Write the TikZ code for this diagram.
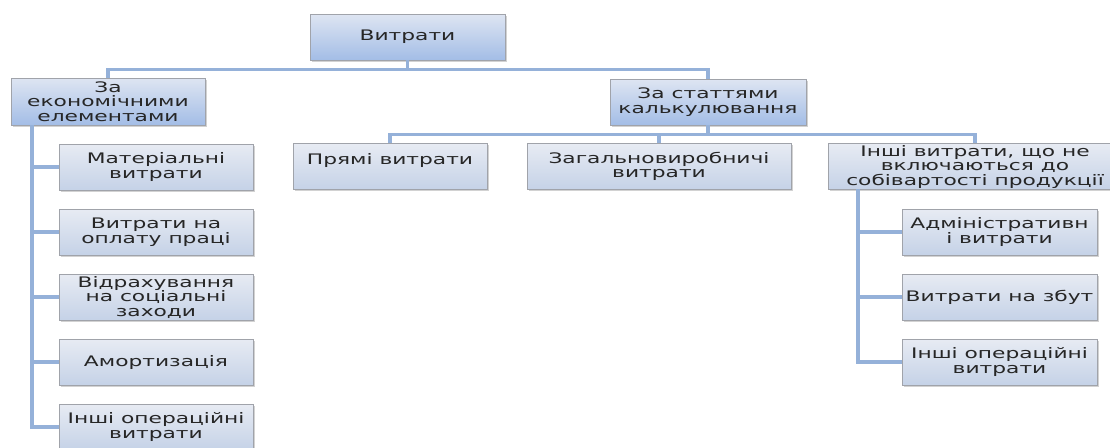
\documentclass[tikz,border=0pt]{standalone}
\usepackage{fontspec}
\setmainfont[FakeStretch=1.5]{DejaVu Sans}
\usetikzlibrary{shadows}
\definecolor{linecol}{RGB}{149,177,217}
\definecolor{topA}{RGB}{222,229,242}
\definecolor{topB}{RGB}{163,189,230}
\definecolor{subA}{RGB}{231,235,243}
\definecolor{subB}{RGB}{197,210,231}
\definecolor{edgecol}{RGB}{160,163,170}
\begin{document}
\begin{tikzpicture}[x=1pt, y=-1pt,
    box/.style={draw=edgecol, line width=0.8pt, inner sep=0pt, align=center,
        minimum height=46, font=\fontsize{14.5}{14.5}\selectfont, text=black!85,
        drop shadow={shadow xshift=1.5pt, shadow yshift=-1.5pt, opacity=0.25, fill=black!70}},
    headbox/.style={box, top color=topA, bottom color=topB},
    subbox/.style={box, top color=subA, bottom color=subB},
    conn/.style={draw=linecol, line width=3.5pt}]
\useasboundingbox (0,0) rectangle (1110,447);

% top levels
\node[headbox, minimum width=195] (root) at (407.5,37) {Витрати};
\node[headbox, minimum width=194, minimum height=47] (econ) at (108,101.5) {За\\економічними\\елементами};
\node[headbox, minimum width=196] (calc) at (708,102) {За статтями\\калькулювання};

\node[subbox, minimum width=194] (direct) at (390,166.5) {Прямі витрати\\~};
\node[subbox, minimum width=264] (general) at (659,166.5) {Загальновиробничі\\витрати};
\node[subbox, minimum width=294] (other) at (975,166.5) {Інші витрати, що не\\включаються до\\собівартості продукції};

\draw[conn] (root.south) -- ++(0,9) -| (econ.north);
\draw[conn] (root.south) -- ++(0,9) -| (calc.north);
\foreach \n in {direct,general,other}
    \draw[conn] (calc.south) -- ++(0,9) -| (\n.north);

% economic elements
\coordinate (el) at (32,125);
\foreach \i/\y/\t in {1/167/{Матеріальні\\витрати}, 2/232/{Витрати на\\оплату праці},
    3/297/{Відрахування\\на соціальні\\заходи}, 4/362/{Амортизація}, 5/427/{Інші операційні\\витрати}}
{
    \draw[conn] (el) |- (156,\y);
    \node[subbox, minimum width=194] (e\i) at (156,\y) {\t};
}

% other costs
\coordinate (ol) at (858,189);
\foreach \i/\y/\t in {1/232/{Адміністративн\\і витрати}, 2/297/{Витрати на збут}, 3/362/{Інші операційні\\витрати}}
{
    \draw[conn] (ol) |- (999.5,\y);
    \node[subbox, minimum width=195] (o\i) at (999.5,\y) {\t};
}

\end{tikzpicture}
\end{document}
